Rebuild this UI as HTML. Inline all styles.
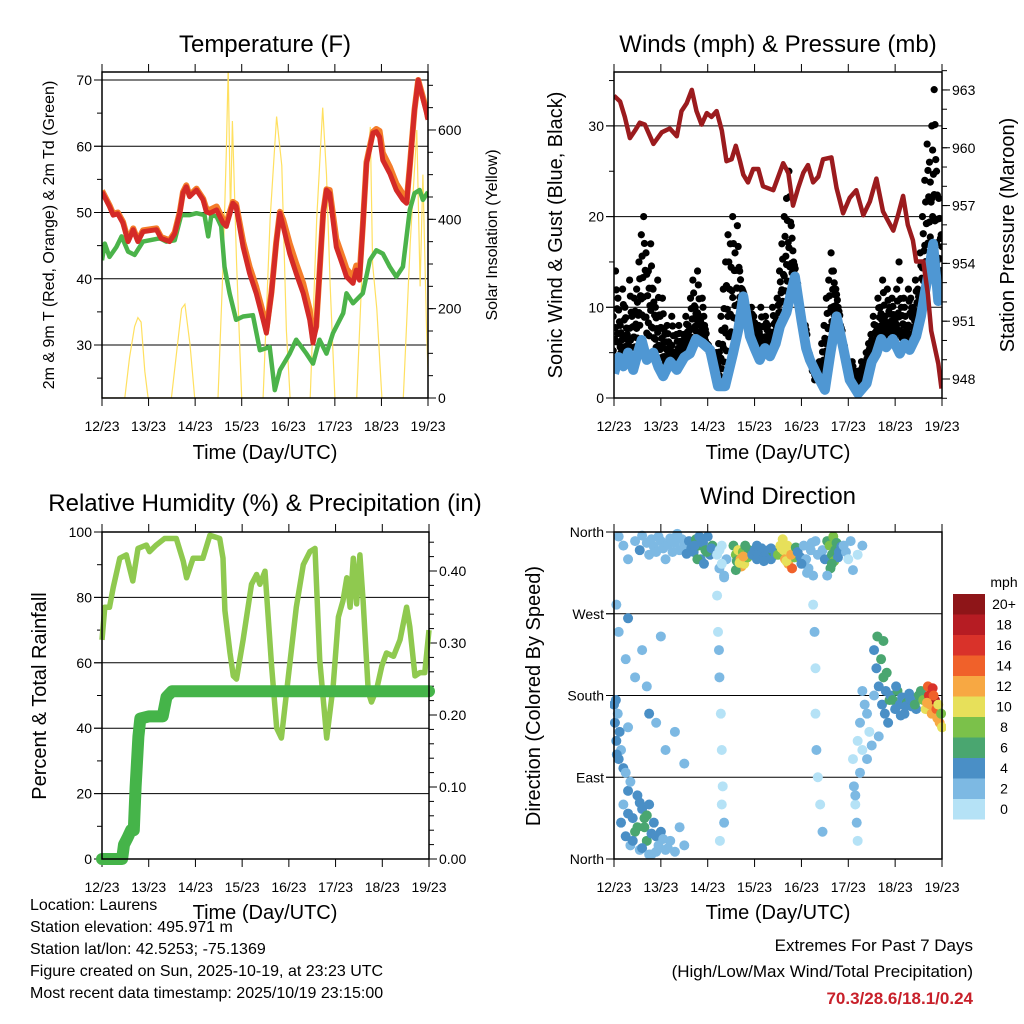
<!DOCTYPE html>
<html><head><meta charset="utf-8">
<style>
html,body{margin:0;padding:0;background:#fff;}
svg{display:block;font-family:"Liberation Sans",Arial,sans-serif;}
</style></head>
<body>
<svg id="c" width="1024" height="1024" viewBox="0 0 1024 1024" xmlns="http://www.w3.org/2000/svg">
<defs>
<clipPath id="cp1"><rect x="102" y="72" width="326" height="326"/></clipPath>
<clipPath id="cp2"><rect x="614" y="72" width="328" height="326"/></clipPath>
<clipPath id="cp3"><rect x="96" y="526" width="340" height="340"/></clipPath>
<clipPath id="cp4"><rect x="610" y="528" width="336" height="335"/></clipPath>
</defs>
<g id="layer"></g>
<text x="265" y="52" font-size="24" text-anchor="middle">Temperature (F)</text>
<text x="778" y="52" font-size="24" text-anchor="middle">Winds (mph) &amp; Pressure (mb)</text>
<text x="265" y="511" font-size="24" text-anchor="middle">Relative Humidity (%) &amp; Precipitation (in)</text>
<text x="778" y="504" font-size="24" text-anchor="middle">Wind Direction</text>
<text x="265" y="459" font-size="20" text-anchor="middle">Time (Day/UTC)</text>
<text x="778" y="459" font-size="20" text-anchor="middle">Time (Day/UTC)</text>
<text x="265" y="919" font-size="20" text-anchor="middle">Time (Day/UTC)</text>
<text x="778" y="919" font-size="20" text-anchor="middle">Time (Day/UTC)</text>
<text transform="translate(54,235) rotate(-90)" font-size="16" text-anchor="middle">2m &amp; 9m T (Red, Orange) &amp; 2m Td (Green)</text>
<text transform="translate(497,235) rotate(-90)" font-size="16" text-anchor="middle">Solar Insolation (Yellow)</text>
<text transform="translate(562,235) rotate(-90)" font-size="20" text-anchor="middle">Sonic Wind &amp; Gust (Blue, Black)</text>
<text transform="translate(1014,235) rotate(-90)" font-size="20" text-anchor="middle">Station Pressure (Maroon)</text>
<text transform="translate(46,696) rotate(-90)" font-size="20" text-anchor="middle">Percent &amp; Total Rainfall</text>
<text transform="translate(540,696) rotate(-90)" font-size="20" text-anchor="middle">Direction (Colored By Speed)</text>
<g font-size="16">
<text x="30" y="910">Location: Laurens</text>
<text x="30" y="932">Station elevation: 495.971 m</text>
<text x="30" y="954">Station lat/lon: 42.5253; -75.1369</text>
<text x="30" y="976">Figure created on Sun, 2025-10-19, at 23:23 UTC</text>
<text x="30" y="998">Most recent data timestamp: 2025/10/19 23:15:00</text>
</g>
<g font-size="17" text-anchor="end">
<text x="973" y="951">Extremes For Past 7 Days</text>
<text x="973" y="977">(High/Low/Max Wind/Total Precipitation)</text>
<text x="973" y="1004" font-weight="bold" fill="#c8202a">70.3/28.6/18.1/0.24</text>
</g>
<text x="1004" y="587" font-size="14" text-anchor="middle">mph</text>
</svg>
<script>
// ---------- data ----------
const dayLabels = ["12/23","13/23","14/23","15/23","16/23","17/23","18/23","19/23"];
// Temperature 2m (red)
const redT = [0,0.16,0.24,0.34,0.45,0.56,0.67,0.77,0.88,1.17,1.27,1.45,1.56,1.67,1.74,1.81,1.88,2.03,2.17,2.24,2.31,2.46,2.6,2.67,2.81,2.88,3.03,3.17,3.31,3.46,3.53,3.64,3.74,3.82,3.89,4.03,4.17,4.32,4.46,4.53,4.6,4.75,4.82,4.89,5.03,5.18,5.25,5.39,5.46,5.53,5.6,5.68,5.82,5.89,5.96,6.03,6.18,6.32,6.46,6.54,6.61,6.71,6.79,6.86,6.97,7];
const redV = [53.1,50.9,49.6,49.8,48.4,45.6,47.4,45.6,47.1,47.4,46.1,45.6,46.8,49.9,52.9,53.9,52.4,53.4,51.9,50.1,49.9,50.4,48.4,47.9,51.4,50.9,44.8,40.8,37.8,33.8,31.8,37.8,45.3,49.9,47.9,43.8,40.8,37.8,33.8,30.3,32.8,49.9,53.4,52.9,44.8,41.8,40.3,39.3,41.3,39.8,47.9,57.4,62,62.2,61.4,57.9,55.9,53.4,51.9,51.4,56.9,65.5,70,68,65,64];
// Temperature 9m (orange)
const orangeT = [0,0.16,0.24,0.34,0.45,0.56,0.67,0.77,0.88,1.17,1.27,1.45,1.56,1.67,1.74,1.81,1.88,2.03,2.17,2.24,2.31,2.46,2.6,2.67,2.81,2.88,3.03,3.17,3.31,3.46,3.53,3.64,3.74,3.82,3.89,4.03,4.17,4.32,4.46,4.53,4.6,4.75,4.82,4.89,5.03,5.18,5.25,5.39,5.46,5.53,5.6,5.68,5.82,5.89,5.96,6.03,6.18,6.32,6.46,6.54,6.61,6.71,6.79,6.86,6.97,7];
const orangeV = [53.3,51.1,49.8,50.0,48.6,45.8,47.6,45.8,47.3,47.6,46.3,45.8,47.0,50.1,53.1,54.1,52.6,53.6,52.1,50.6,50.4,50.9,48.9,48.4,51.6,51.3,45.6,41.8,38.8,34.8,32.3,38.0,45.5,50.1,48.9,45.3,42.3,39.3,35.3,31.0,32.8,50.0,53.5,53.4,46.0,43.0,41.5,40.3,42.0,40.5,48.0,57.6,62.2,62.6,62.3,59.0,56.9,54.4,52.8,51.6,57.0,65.5,70,68.2,65.4,64.2];
// Dewpoint (green)
const tdT = [0,0.06,0.16,0.31,0.42,0.56,0.7,0.88,1.24,1.38,1.56,1.7,1.88,2.03,2.2,2.28,2.35,2.46,2.56,2.63,2.74,2.88,3.03,3.24,3.39,3.6,3.71,3.82,4.03,4.17,4.39,4.53,4.67,4.82,4.96,5.18,5.25,5.39,5.6,5.75,5.89,6.03,6.18,6.32,6.46,6.61,6.71,6.82,6.89,7];
const tdV = [42.8,45.3,43.3,44.8,46.4,44.1,43.6,45.6,46.1,45.6,45.8,49.6,49.6,49.9,49.6,46.4,49.6,49.4,47.9,41.8,37.8,33.8,34.3,34.5,29.2,29.7,23.2,26.2,28.7,30.8,28.7,27.2,30.8,28.7,31.8,34.8,37.8,36.3,37.8,42.8,44.3,43.8,41.8,40.3,41.8,50.4,52.9,53.4,51.9,53.1];
// Solar insolation (yellow)
const solarT = [0,0.49,0.59,0.7,0.77,0.84,0.92,0.99,1.49,1.6,1.71,1.78,1.89,1.99,2.49,2.6,2.67,2.71,2.76,2.8,2.89,3.0,3.46,3.61,3.75,3.86,3.96,4.04,4.47,4.61,4.74,4.82,4.9,5.0,5.47,5.61,5.76,5.81,5.9,6.01,6.47,6.62,6.76,6.83,6.89,6.97,7.0];
const solarV = [0,0,90,160,180,170,60,0,0,100,200,210,120,0,0,300,550,740,400,620,300,0,0,400,630,520,150,0,0,400,650,500,250,0,0,350,607,300,200,0,0,350,600,250,500,150,60];
// Station pressure (maroon)
const presT = [0,0.13,0.23,0.34,0.45,0.55,0.66,0.84,1.02,1.19,1.34,1.44,1.55,1.66,1.76,1.87,1.98,2.08,2.19,2.3,2.4,2.51,2.6,2.69,2.76,2.86,2.97,3.08,3.18,3.4,3.61,3.72,3.82,3.93,4.04,4.14,4.25,4.36,4.46,4.64,4.75,4.89,5.03,5.17,5.32,5.46,5.6,5.74,5.96,6.06,6.17,6.27,6.38,6.45,6.6,6.7,6.77,6.92,6.99];
const presV = [962.7,962.4,961.6,960.5,960.9,961.3,961.2,960.2,960.8,961.0,960.6,961.9,962.3,963.0,961.9,961.2,961.8,961.6,961.9,960.9,959.3,959.4,960.1,959.3,958.6,958.2,958.9,958.9,958.0,957.8,959.2,958.7,957.0,957.9,958.7,959.1,958.2,958.5,959.4,959.5,957.9,956.6,957.4,957.8,956.5,957.2,958.4,956.7,955.7,956.5,957.5,956.0,955.2,954.1,954.1,952.4,950.5,948.8,947.5];
// Sonic wind (blue)
const windT = [0,0.1,0.2,0.3,0.41,0.5,0.59,0.7,0.84,0.95,1.05,1.2,1.34,1.5,1.62,1.75,1.9,2.05,2.22,2.37,2.54,2.65,2.76,2.9,3.0,3.11,3.22,3.33,3.45,3.54,3.68,3.86,4.0,4.1,4.18,4.32,4.5,4.62,4.75,4.89,5.03,5.21,5.39,5.5,5.6,5.7,5.81,5.95,6.1,6.2,6.31,6.45,6.55,6.63,6.72,6.81,6.92,6.99];
const windV = [2.7,4.5,3.5,5,3.1,4.8,6.4,4.2,5,3.4,2.4,4,3.1,4.5,4.9,6.5,6,5.3,1.3,1.3,4.9,7.5,11.2,6.8,5.5,4.2,5.5,4.6,6,7.9,9.4,13.4,8.6,5.5,4.2,2.7,0.9,5,9,5.6,2,0.5,1.6,4,4.9,6.5,5.6,6.5,4.9,6,5.3,6.8,9,11.5,14,17,10.7,11.4];
// Gusts (black), every 0.05 day
const gustV = [9,14,11,8,12,10,7,13,9,11, 12,15,18,20,16,14,17,12,10,13, 9,11,7,8,6,9,5,7,8,6, 7,9,8,11,13,10,14,9,11,8, 6,5,4,3,5,6,9,12,15,18, 17,20,16,19,14,12,10,9,8,10, 9,7,8,10,6,9,8,7,10,9, 11,14,17,20,22,25,19,15,13,10, 9,7,8,5,4,3,2,3,4,6, 8,11,13,16,14,12,10,8,6,4, 3,2,4,3,2,3,4,3,5,6, 7,9,8,11,10,13,9,12,10,11, 9,12,15,10,11,8,12,11,10,13, 12,16,20,24,28,26,30,34,25,22, 18];
// Relative humidity
const rhT = [0,0.06,0.16,0.24,0.38,0.52,0.66,0.77,0.95,1.02,1.16,1.34,1.59,1.74,1.81,1.95,2.16,2.31,2.52,2.59,2.63,2.74,2.81,2.88,3.02,3.2,3.31,3.38,3.49,3.63,3.74,3.84,3.99,4.16,4.31,4.45,4.56,4.66,4.81,4.95,5.06,5.16,5.24,5.31,5.38,5.45,5.52,5.59,5.7,5.77,5.88,5.99,6.09,6.24,6.38,6.52,6.59,6.7,6.81,6.91,7.0];
const rhV = [67,77,77,83,92,93,85,95,96,94,96,98,98,91,86,92,92,99,98,92,76,63,56,55,67,84,87,84,88,59,40,37,56,77,90,94,95,61,37,53,74,79,86,77,92,78,93,79,51,48,52,59,63,62,67,77,71,56,57,57,70];
// Precipitation (accumulated)
const precipT = [0,0.43,0.47,0.55,0.62,0.68,0.72,0.78,0.82,1.0,1.3,1.38,1.5,7.0];
const precipV = [0,0,0.02,0.03,0.04,0.04,0.10,0.17,0.195,0.198,0.198,0.225,0.233,0.233];
// Wind direction scatter
const dirT = [0.1,0.2,0.3,0.45,0.55,0.6,0.7,0.75,0.8,0.85,0.9,0.95,1.0,1.05,1.1,1.15,1.2,1.25,1.3,1.35,1.4,1.45,1.5,1.55,1.6,1.65,1.7,1.75,1.8,1.85,1.9,1.95,2.0,2.05,2.1,
1.72,1.78,1.88,1.98,2.08,1.82,1.92,
2.2,2.25,2.3,2.35,2.4,2.25,2.3,2.35,
2.55,2.6,2.62,2.65,2.7,2.72,2.75,2.78,2.8,2.85,2.88,2.6,2.68,2.76,
2.95,3.0,3.05,3.1,3.15,3.2,3.25,3.3,3.35,3.4,3.45,3.05,3.2,3.35,
3.5,3.55,3.6,3.62,3.65,3.7,3.72,3.75,3.8,3.85,3.58,3.68,3.78,3.88,
3.92,3.98,4.05,4.1,4.15,4.2,4.25,4.3,4.35,4.0,4.12,4.22,
4.45,4.5,4.55,4.6,4.62,4.65,4.68,4.7,4.72,4.75,4.78,4.8,4.55,4.65,4.85,
4.9,4.95,5.0,5.05,5.1,5.2,5.3,
0.15,0.2,0.25,0.3,0.35,0.4,0.45,0.5,0.55,0.6,0.65,0.7,0.75,0.8,0.85,0.9,0.95,1.0,1.1,1.2,1.3,1.4,1.5,0.3,0.4,0.5,0.6,0.7,0.8,0.9,0.35,0.55,0.65,0.75,1.05,1.15,
0.0,0.02,0.05,0.08,0.1,0.12,0.15,0.2,0.25,0.3,0.04,0.06,
0.05,0.1,0.3,0.45,0.6,0.7,0.9,1.1,1.5,0.25,0.75,1.0,1.3,
2.2,2.22,2.25,2.28,2.3,2.32,2.35,2.26,2.3,2.24,
4.25,4.28,4.3,4.32,4.35,4.4,4.45,4.3,
5.1,5.12,5.15,5.18,5.2,5.25,5.15,
5.2,5.25,5.3,5.35,5.4,5.45,5.3,5.4,5.5,5.55,
5.55,5.6,5.62,5.65,5.7,5.72,5.75,5.78,5.8,5.85,5.88,5.65,5.75,5.82,
5.9,5.95,6.0,6.05,6.1,6.15,6.2,6.25,6.3,6.35,6.4,6.45,6.5,6.02,6.12,6.22,6.32,6.42,
6.55,6.6,6.65,6.7,6.72,6.75,6.78,6.8,6.85,6.88,6.9,6.92,6.95,6.98,7.0,6.82,6.68];
const dirDeg = [355,345,330,350,340,356,348,335,352,344,338,355,350,342,330,346,353,338,348,358,340,352,345,336,350,342,338,352,345,330,348,340,355,335,345,
345,330,350,338,342,355,325,
335,320,345,312,330,340,325,310,
345,335,328,340,330,322,338,325,345,332,340,318,326,333,
335,340,330,338,342,332,336,340,330,338,335,345,328,342,
335,345,352,340,330,345,325,338,320,332,342,328,335,343,
338,332,345,330,320,340,312,350,335,325,315,348,
340,330,350,345,320,335,355,328,340,348,332,338,312,325,344,
345,338,330,350,318,335,345,
40,60,25,50,15,45,30,70,10,55,35,20,60,5,40,25,15,30,10,20,8,35,15,75,20,35,12,48,28,8,85,62,45,5,22,12,
170,150,130,160,110,140,120,100,95,145,175,115,
280,250,265,200,230,190,150,120,105,220,160,245,140,
290,250,200,160,120,80,40,20,60,230,
280,250,210,120,90,60,30,160,
110,80,60,40,20,95,70,
130,150,120,170,110,140,185,160,125,180,
230,210,245,190,220,170,200,160,185,150,175,135,240,205,
180,175,165,185,170,178,160,172,182,168,175,165,180,190,158,168,176,170,
185,175,165,190,180,170,160,188,175,165,155,170,150,160,145,180,172];
const dirSpd = [3,2,3,3,4,2,3,2,3,3,2,2,3,2,3,2,3,2,2,3,2,2,3,4,5,4,5,7,6,5,4,7,5,4,6,
4,6,5,7,4,5,4,
1,2,1,2,2,1,1,2,
7,8,6,11,12,13,9,10,7,8,6,7,10,13,
5,4,5,4,5,4,5,4,5,6,5,4,5,4,
8,10,11,10,12,11,13,10,15,9,11,10,12,7,
4,5,3,2,3,2,2,3,2,4,2,3,
3,5,7,8,6,7,9,8,6,7,5,4,3,6,4,
2,3,1,2,2,1,2,
4,3,4,5,3,4,6,4,3,5,7,6,4,3,5,4,3,4,3,2,3,2,2,4,4,6,5,7,4,3,3,4,6,3,2,2,
4,4,4,3,4,4,3,4,3,2,4,4,
3,3,4,3,2,3,3,2,2,3,4,3,2,
1,1,2,1,1,1,2,1,1,2,
1,2,1,2,1,1,2,1,
1,2,1,2,1,2,3,
1,2,1,2,2,1,2,2,3,2,
4,5,6,4,7,5,6,4,5,4,6,3,6,7,
5,6,4,7,5,4,5,6,4,5,4,5,6,4,5,4,5,6,
7,9,11,14,16,13,12,17,18,15,13,10,12,8,11,15,12];
const speedLabels = ["20+","18","16","14","12","10","8","6","4","2","0"];
const speedColors = ["#b5e2f6","#7db9e3","#4a8fc6","#4aa670","#7bc14a","#e7e05a","#f7a843","#f0612a","#d9322a","#b61c23","#8e1518"];

// ---------- helpers ----------
const NS="http://www.w3.org/2000/svg";
const layer=document.getElementById('layer');
function mk(tag, attrs, parent){const e=document.createElementNS(NS,tag);for(const k in attrs)e.setAttribute(k,attrs[k]);(parent||layer).appendChild(e);return e;}
function xs(x0,x1){return t=>x0+(x1-x0)*t/7;}
const P1={x0:102,x1:428,y0:72,y1:398}, P2={x0:614,x1:942,y0:72,y1:398}, P3={x0:102,x1:429,y0:532,y1:859}, P4={x0:614,x1:942,y0:532,y1:859};
const x1s=xs(P1.x0,P1.x1), x2s=xs(P2.x0,P2.x1), x3s=xs(P3.x0,P3.x1), x4s=xs(P4.x0,P4.x1);
const tY=v=>345-(v-30)*6.625, sY=v=>398-v*0.4467;
const wY=v=>398-v*9.07, pY=v=>379-(v-948)*19.27;
const rY=v=>859-v*3.27, qY=v=>859-v*720;
const dY=d=>859-d/360*327;
function pathD(T,V,xf,yf){return T.map((t,i)=>(i?'L':'M')+xf(t).toFixed(1)+','+yf(V[i]).toFixed(1)).join('');}
function interp(T,V,t){for(let i=1;i<T.length;i++){if(t<=T[i]){const f=(t-T[i-1])/(T[i]-T[i-1]||1);return V[i-1]+f*(V[i]-V[i-1]);}}return V[V.length-1];}

function frame(P,xf,name){
  const g=mk('g',{});
  
  
  for(let d=0;d<=7;d++){
    const x=xf(d);
    mk('line',{x1:x,y1:P.y0,x2:x,y2:P.y0-8,stroke:'#000','stroke-width':1},g);
    mk('line',{x1:x,y1:P.y1,x2:x,y2:P.y1+8,stroke:'#000','stroke-width':1},g);
    const tl=mk('text',{x:x,y:P.y1+33,'font-size':14,'text-anchor':'middle'},g);
    tl.textContent=dayLabels[d];
    
    
  }
  return g;
}
function box(P,name){const r=mk('rect',{x:P.x0,y:P.y0,width:P.x1-P.x0,height:P.y1-P.y0,fill:'none',stroke:'#000','stroke-width':1.5});
  
  }
function yticks(P,vals,yf,side,len,labels,name){
  const g=mk('g',{});
  
  
  vals.forEach((v,i)=>{const y=yf(v);const x=side==='l'?P.x0:P.x1;
    mk('line',{x1:x,y1:y,x2:side==='l'?x-len:x+len,y2:y,stroke:'#000','stroke-width':1},g);
    if(labels&&labels[i]!=null){const t=mk('text',{x:side==='l'?x-10:x+10,y:y+5,'font-size':14,'text-anchor':side==='l'?'end':'start'},g);t.textContent=labels[i];}
  });
}
function grid(P,vals,yf){vals.forEach(v=>mk('line',{x1:P.x0-8,y1:yf(v),x2:P.x1,y2:yf(v),stroke:'#000','stroke-width':1}));}

// ---------- Panel 1: temperature ----------
frame(P1,x1s,'temperature');
grid(P1,[30,40,50,60,70],tY);
yticks(P1,[25,35,45,55,65],tY,'l',5,null,'temp-minor-ticks');
yticks(P1,[30,40,50,60,70],tY,'l',8,['30','40','50','60','70'],'temp-y-ticks');
const sMin=[];for(let v=0;v<=700;v+=50)sMin.push(v);
yticks(P1,sMin,sY,'r',5,null,'solar-minor-ticks');
yticks(P1,[0,200,400,600],sY,'r',8,['0','200','400','600'],'solar-y-ticks');
const g1=mk('g',{'clip-path':'url(#cp1)'});
const sol=mk('path',{d:pathD(solarT,solarV,x1s,sY),fill:'none',stroke:'#ffe060','stroke-width':1.2},g1);


const td=mk('path',{d:pathD(tdT,tdV,x1s,tY),fill:'none',stroke:'#4bb34a','stroke-width':4.5,'stroke-linejoin':'round'},g1);


const ot=mk('path',{d:pathD(orangeT,orangeV,x1s,tY),fill:'none',stroke:'#f47c2a','stroke-width':6,'stroke-linejoin':'round'},g1);


const rt=mk('path',{d:pathD(redT,redV,x1s,tY),fill:'none',stroke:'#d42a27','stroke-width':5,'stroke-linejoin':'round'},g1);


box(P1,'temperature');

// ---------- Panel 2: winds & pressure ----------
frame(P2,x2s,'winds');
grid(P2,[10,20,30],wY);
yticks(P2,[5,15,25,35],wY,'l',5,null,'wind-minor-ticks');
yticks(P2,[0,10,20,30],wY,'l',8,['0','10','20','30'],'wind-y-ticks');
const pMin=[];for(let v=947;v<=964;v++)pMin.push(v);
yticks(P2,pMin,pY,'r',5,null,'pressure-minor-ticks');
yticks(P2,[948,951,954,957,960,963],pY,'r',8,['948','951','954','957','960','963'],'pressure-y-ticks');
const g2=mk('g',{'clip-path':'url(#cp2)'});
gustV.forEach((v,i)=>{
  const t=i*0.05;
  const w=interp(windT,windV,t);
  [1,0.8,0.6,0.4,0.25].forEach((f,k)=>{
    const val=w+(v-w)*f;
    const c=mk('circle',{cx:x2s(t+((k%3)-1)*0.017),cy:wY(val),r:3.6,fill:'#000'},g2);
    
    
  });
});
const wl=mk('path',{d:pathD(windT,windV,x2s,wY),fill:'none',stroke:'#4f97d3','stroke-width':10,'stroke-linejoin':'round'},g2);


const pl=mk('path',{d:pathD(presT,presV,x2s,pY),fill:'none',stroke:'#9b1b1e','stroke-width':4.5,'stroke-linejoin':'round'},g2);


box(P2,'winds');

// ---------- Panel 3: RH & precip ----------
frame(P3,x3s,'humidity');
grid(P3,[20,40,60,80],rY);
yticks(P3,[10,30,50,70,90],rY,'l',5,null,'rh-minor-ticks');
yticks(P3,[0,20,40,60,80,100],rY,'l',8,['0','20','40','60','80','100'],'rh-y-ticks');
const qMin=[];for(let v=0;v<=0.46;v+=0.02)qMin.push(v);
yticks(P3,qMin,qY,'r',5,null,'precip-minor-ticks');
yticks(P3,[0,0.1,0.2,0.3,0.4],qY,'r',8,['0.00','0.10','0.20','0.30','0.40'],'precip-y-ticks');
const g3=mk('g',{'clip-path':'url(#cp3)'});
const rl=mk('path',{d:pathD(rhT,rhV,x3s,rY),fill:'none',stroke:'#8fc94f','stroke-width':5.5,'stroke-linejoin':'round'},g3);


const ql=mk('path',{d:pathD(precipT,precipV,x3s,qY),fill:'none',stroke:'#45b449','stroke-width':12,'stroke-linejoin':'round','stroke-linecap':'round'},g3);


box(P3,'humidity');

// ---------- Panel 4: wind direction ----------
frame(P4,x4s,'direction');
mk('line',{x1:P4.x0-8,y1:P4.y0,x2:P4.x1,y2:P4.y0,stroke:'#000'});
mk('line',{x1:P4.x0-8,y1:P4.y1,x2:P4.x1,y2:P4.y1,stroke:'#000'});
grid(P4,[90,180,270],dY);
yticks(P4,[0,90,180,270,360],dY,'l',8,['North','East','South','West','North'],'direction-y-ticks');
const g4=mk('g',{'clip-path':'url(#cp4)'});
dirT.forEach((t,i)=>{
  const bin=Math.min(10,Math.floor(dirSpd[i]/2));
  const c=mk('circle',{cx:x4s(t),cy:dY(dirDeg[i]),r:5,fill:speedColors[bin]},g4);
  
  
});
box(P4,'direction');
// colorbar
speedLabels.forEach((lab,i)=>{
  const y=594+i*20.5;
  const r=mk('rect',{x:953,y:y,width:32,height:20.5,fill:speedColors[10-i]});
  
  
  const t=mk('text',{x:1004,y:y+15,'font-size':14,'text-anchor':'middle'});
  t.textContent=lab;
  
  
});
</script>
</body></html>
